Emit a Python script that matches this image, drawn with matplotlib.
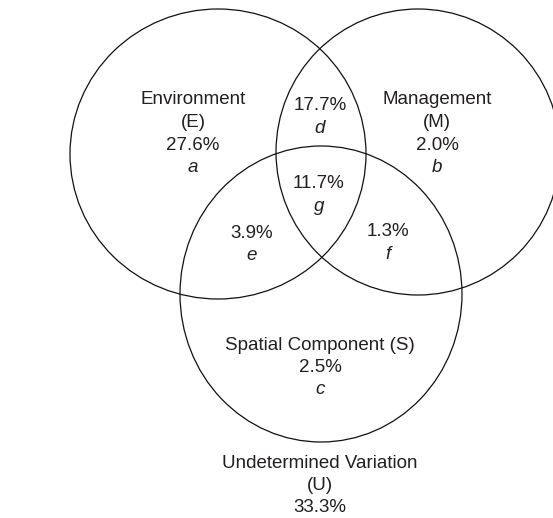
import matplotlib.pyplot as plt
from matplotlib.patches import Ellipse

# variance partition values (%)
regions = ['a', 'b', 'c', 'd', 'e', 'f', 'g']
values = [27.6, 2.0, 2.5, 17.7, 3.9, 1.3, 11.7]
set_names = ['Environment\n(E)', 'Management\n(M)', 'Spatial Component (S)']
undetermined_name = 'Undetermined Variation\n(U)'
undetermined_value = 33.3

# layout in pixel coordinates (y down)
circles = [(218, 154, 296, 290),   # E: cx, cy, width, height
           (418, 152, 284, 286),   # M
           (321, 294, 282, 296)]   # S
label_pos = {
    'a': (193, 100), 'b': (437, 100), 'c': (320, 345),
    'd': (320, 106), 'e': (252, 233), 'f': (388, 232), 'g': (319, 184),
}
step = 22.5
fs = 13.5
tc = '#231f20'

fig = plt.figure(figsize=(5.53, 5.18), dpi=100)
ax = fig.add_axes([0, 0, 1, 1])
ax.set_xlim(0, 553)
ax.set_ylim(518, 0)
ax.axis('off')

for cx, cy, w, h in circles:
    ax.add_patch(Ellipse((cx, cy), w, h, fill=False, edgecolor='#111111', lw=0.9))


def put(x, y, s, italic=False):
    ax.text(x, y, s, ha='center', va='center', fontsize=fs, color=tc,
            family='Liberation Sans', style='italic' if italic else 'normal')


# regions that carry a set name
named = {'a': set_names[0], 'b': set_names[1], 'c': set_names[2]}
for r, v in zip(regions, values):
    x, y = label_pos[r]
    lines = named[r].split('\n') if r in named else []
    for i, ln in enumerate(lines):
        put(x, y + i * step, ln)
    n = len(lines)
    put(x, y + n * step, f'{v:.1f}%')
    put(x, y + (n + 1) * step, r, italic=True)

ux, uy = 320, 463
for i, ln in enumerate(undetermined_name.split('\n')):
    put(ux, uy + i * step, ln)
put(ux, uy + 2 * step, f'{undetermined_value:.1f}%')

fig.savefig('out.png', dpi=100)
